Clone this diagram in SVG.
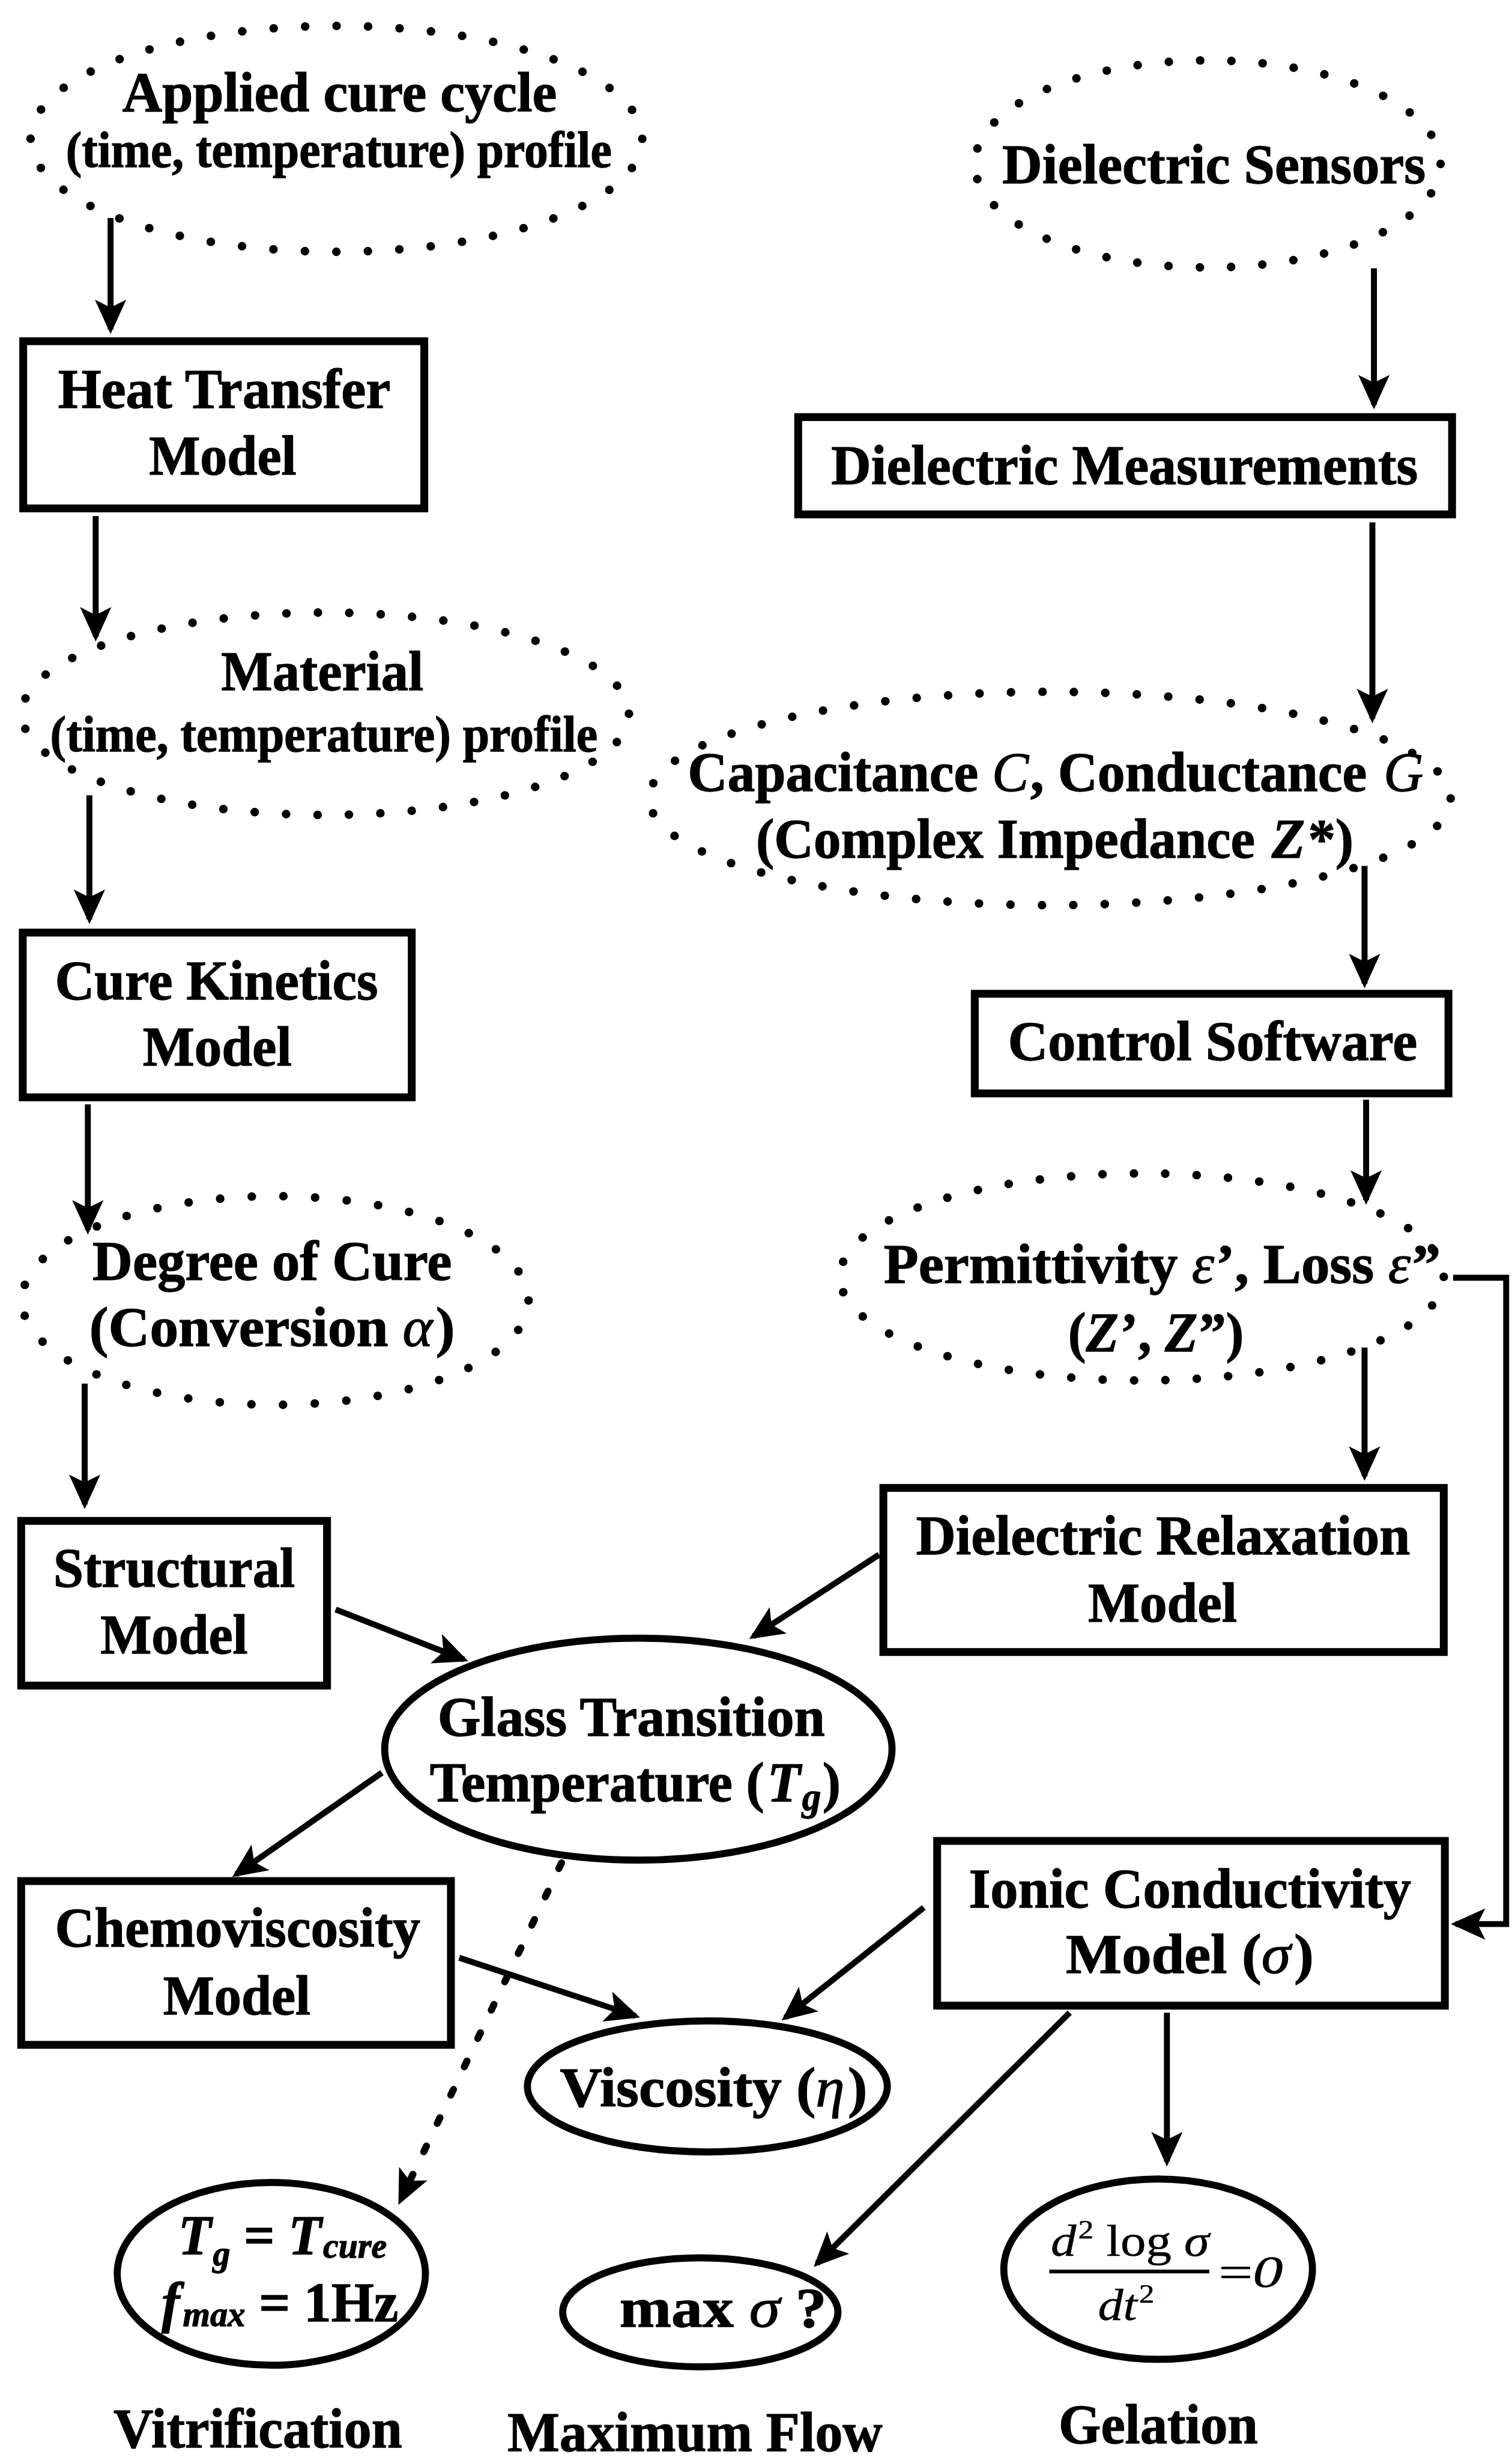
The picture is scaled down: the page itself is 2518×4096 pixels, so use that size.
<svg xmlns="http://www.w3.org/2000/svg" width="2518" height="4096" viewBox="0 0 2518 4096">
  <style>
    .box { fill: #fff; stroke: #000; stroke-width: 5; }
    .oval { fill: #fff; stroke: #000; stroke-width: 4.5; }
    .dots { fill: none; stroke: #000; stroke-width: 5.5; stroke-linecap: round; }
    .link { fill: none; stroke: #000; stroke-width: 3.8; marker-end: url(#arrow); }
    .dotlink { stroke-width: 4.5; stroke-dasharray: 4 16; stroke-linecap: round; }
    .bar { stroke: #000; stroke-width: 2.4; }
    text { font-family: "Liberation Serif", "Times New Roman", serif; font-weight: bold; font-size: 36px; fill: #000; stroke: #000; stroke-width: 0.5; }
    .sm { font-size: 32px; }
    .it { font-style: italic; }
    .gr { font-style: italic; font-weight: normal; }
    .fx { font-style: italic; font-weight: normal; font-size: 28px; stroke-width: 0.2; }
    .up { font-style: normal; }
  </style>
  <defs>
    <marker id="arrow" viewBox="-24 -12 30 24" markerWidth="30" markerHeight="24" refX="0" refY="0" orient="auto" markerUnits="userSpaceOnUse">
      <path d="M3,0 L-19,-10 L-14,0 L-19,10 Z" fill="#000"/>
    </marker>
  </defs>
  <rect x="0" y="0" width="2518" height="4096" fill="#fff"/>
  <g transform="scale(2.612)">
    <!-- connectors -->
    <g id="connectors">
      <path class="link" d="M70.5,139 L70.5,210"/>
      <path class="link" d="M61,329 L61,406"/>
      <path class="link" d="M57,507 L57,586"/>
      <path class="link" d="M56,704 L56,784"/>
      <path class="link" d="M54,882 L54,959"/>
      <path class="link" d="M214,1026 L295.8,1057.9"/>
      <path class="link" d="M560.5,991 L480.2,1043.2"/>
      <path class="link" d="M243.5,1130 L150.5,1194.9"/>
      <path class="link" d="M292.8,1248 L405.2,1285.1"/>
      <path class="link dotlink" d="M358,1187.5 L255.3,1402.8"/>
      <path class="link" d="M589,1216 L500.7,1286.1"/>
      <path class="link" d="M682,1283 L520.9,1442.9"/>
      <path class="link" d="M744,1283 L744,1378"/>
      <path class="link" d="M876,171 L876,258"/>
      <path class="link" d="M875,333 L875,458"/>
      <path class="link" d="M870,552 L870,627"/>
      <path class="link" d="M871,701 L871,765"/>
      <path class="link" d="M870,859 L870,941"/>
      <path class="link" d="M926.5,814.5 L960.3,814.5 L960.3,1226.5 L928,1226.5"/>
    </g>

    <!-- left column -->
    <g id="cure-cycle">
      <ellipse class="dots" cx="214.5" cy="88.5" rx="195" ry="72" stroke-dasharray="0 20.09"/>
      <text x="78" y="71" textLength="277" lengthAdjust="spacingAndGlyphs">Applied cure cycle</text>
      <text class="sm" x="42" y="106.5" textLength="348" lengthAdjust="spacingAndGlyphs">(time, temperature) profile</text>
    </g>
    <g id="heat-transfer">
      <rect class="box" x="14.8" y="217.5" width="255.7" height="106.6"/>
      <text x="37" y="260" textLength="212" lengthAdjust="spacingAndGlyphs">Heat Transfer</text>
      <text x="95" y="302.6" textLength="94" lengthAdjust="spacingAndGlyphs">Model</text>
    </g>
    <g id="material-profile">
      <ellipse class="dots" cx="207.5" cy="455" rx="193.5" ry="64.5" stroke-dasharray="0 20.05"/>
      <text x="141" y="440" textLength="129" lengthAdjust="spacingAndGlyphs">Material</text>
      <text class="sm" x="32" y="479" textLength="349" lengthAdjust="spacingAndGlyphs">(time, temperature) profile</text>
    </g>
    <g id="cure-kinetics">
      <rect class="box" x="14.5" y="594.5" width="248" height="105"/>
      <text x="35" y="637" textLength="206" lengthAdjust="spacingAndGlyphs">Cure Kinetics</text>
      <text x="91" y="679" textLength="95" lengthAdjust="spacingAndGlyphs">Model</text>
    </g>
    <g id="degree-of-cure">
      <ellipse class="dots" cx="175.5" cy="829" rx="161.5" ry="66.5" stroke-dasharray="0 20.21"/>
      <text x="59" y="816" textLength="229" lengthAdjust="spacingAndGlyphs">Degree of Cure</text>
      <text x="57" y="858" textLength="233" lengthAdjust="spacingAndGlyphs">(Conversion <tspan class="gr">α</tspan><tspan dx="2">)</tspan></text>
    </g>
    <g id="structural">
      <rect class="box" x="13.5" y="969.5" width="195" height="105"/>
      <text x="34" y="1011.6" textLength="154" lengthAdjust="spacingAndGlyphs">Structural</text>
      <text x="64" y="1054" textLength="94" lengthAdjust="spacingAndGlyphs">Model</text>
    </g>
    <g id="glass-transition">
      <ellipse class="oval" cx="407" cy="1115" rx="161.75" ry="70.75"/>
      <text x="279" y="1106.6" textLength="247" lengthAdjust="spacingAndGlyphs">Glass Transition</text>
      <text x="274" y="1148" textLength="262" lengthAdjust="spacingAndGlyphs">Temperature (<tspan class="it" dx="2">T</tspan><tspan class="it" font-size="25" dx="1" dy="6">g</tspan><tspan dx="1" dy="-6">)</tspan></text>
    </g>
    <g id="chemoviscosity">
      <rect class="box" x="13.5" y="1199.1" width="274" height="104.4"/>
      <text x="35" y="1241" textLength="233" lengthAdjust="spacingAndGlyphs">Chemoviscosity</text>
      <text x="104" y="1284" textLength="94" lengthAdjust="spacingAndGlyphs">Model</text>
    </g>
    <g id="viscosity">
      <ellipse class="oval" cx="451" cy="1330" rx="114.75" ry="41.75"/>
      <text x="357" y="1342.6" textLength="196" lengthAdjust="spacingAndGlyphs">Viscosity (<tspan class="gr">η</tspan><tspan dx="2">)</tspan></text>
    </g>
    <g id="vitrification">
      <ellipse class="oval" cx="173" cy="1449.5" rx="98.25" ry="58.25"/>
      <text x="113.6" y="1437" textLength="133" lengthAdjust="spacingAndGlyphs"><tspan class="it">T</tspan><tspan class="it" font-size="23" dx="1" dy="7">g</tspan><tspan dy="-7"> = </tspan><tspan class="it">T</tspan><tspan class="it" font-size="23" dx="1" dy="2">cure</tspan></text>
      <text x="103" y="1479.6" textLength="151" lengthAdjust="spacingAndGlyphs"><tspan class="it">f</tspan><tspan class="it" font-size="23" dx="2" dy="3">max</tspan><tspan dy="-3"> = 1Hz</tspan></text>
    </g>
    <g id="max-conductivity">
      <ellipse class="oval" cx="446.5" cy="1474" rx="87.75" ry="34.75"/>
      <text x="395" y="1483" textLength="132" lengthAdjust="spacingAndGlyphs">max <tspan class="gr">σ</tspan> ?</text>
    </g>
    <g id="gelation">
      <ellipse class="oval" cx="738.4" cy="1446.5" rx="98.4" ry="57.5"/>
      <text class="fx" x="670" y="1438" textLength="101" lengthAdjust="spacingAndGlyphs">d<tspan class="up" font-size="17" dx="1" dy="-11">2</tspan><tspan class="up" dy="11"> log</tspan> σ</text>
      <line class="bar" x1="669" y1="1448" x2="771" y2="1448"/>
      <text class="fx" x="700" y="1479" textLength="36" lengthAdjust="spacingAndGlyphs">dt<tspan class="up" font-size="17" dx="1" dy="-11">2</tspan></text>
      <text class="fx" x="777" y="1458" font-size="30" textLength="41" lengthAdjust="spacingAndGlyphs"><tspan class="up">=</tspan>0</text>
    </g>

    <!-- right column -->
    <g id="dielectric-sensors">
      <ellipse class="dots" cx="770" cy="104.5" rx="148.5" ry="66" stroke-dasharray="0 19.97"/>
      <text x="639" y="116.9" textLength="270" lengthAdjust="spacingAndGlyphs">Dielectric Sensors</text>
    </g>
    <g id="dielectric-measurements">
      <rect class="box" x="508.9" y="265.9" width="416.9" height="62"/>
      <text x="530" y="308.4" textLength="374" lengthAdjust="spacingAndGlyphs">Dielectric Measurements</text>
    </g>
    <g id="capacitance-conductance">
      <ellipse class="dots" cx="669.4" cy="509" rx="255.5" ry="68" stroke-dasharray="0 20.07"/>
      <text x="438.5" y="504.3" textLength="469" lengthAdjust="spacingAndGlyphs">Capacitance <tspan class="gr">C</tspan><tspan dx="1">, Conductance </tspan><tspan class="gr" dx="2">G</tspan></text>
      <text x="482" y="546.6" textLength="381" lengthAdjust="spacingAndGlyphs">(Complex Impedance <tspan class="it" dx="2">Z</tspan><tspan dx="2">*)</tspan></text>
    </g>
    <g id="control-software">
      <rect class="box" x="621.5" y="633.5" width="302" height="63.5"/>
      <text x="642.6" y="675.7" textLength="261" lengthAdjust="spacingAndGlyphs">Control Software</text>
    </g>
    <g id="permittivity-loss">
      <ellipse class="dots" cx="728" cy="814" rx="192.5" ry="66" stroke-dasharray="0 20.03"/>
      <text x="563.5" y="817.8" textLength="355" lengthAdjust="spacingAndGlyphs">Permittivity <tspan class="gr">ε</tspan><tspan dx="1">’, Loss </tspan><tspan class="gr">ε</tspan><tspan dx="1">”</tspan></text>
      <text x="681" y="861.6" textLength="112" lengthAdjust="spacingAndGlyphs">(<tspan class="it">Z</tspan><tspan dx="1">’, </tspan><tspan class="it">Z</tspan><tspan dx="1">”)</tspan></text>
    </g>
    <g id="dielectric-relaxation">
      <rect class="box" x="563.2" y="948.5" width="357.3" height="104.6"/>
      <text x="584" y="991" textLength="315" lengthAdjust="spacingAndGlyphs">Dielectric Relaxation</text>
      <text x="693.7" y="1033.7" textLength="95" lengthAdjust="spacingAndGlyphs">Model</text>
    </g>
    <g id="ionic-conductivity">
      <rect class="box" x="597.5" y="1173.5" width="323.7" height="105"/>
      <text x="617.7" y="1216" textLength="282" lengthAdjust="spacingAndGlyphs">Ionic Conductivity</text>
      <text x="679.6" y="1257.6" textLength="158" lengthAdjust="spacingAndGlyphs">Model (<tspan class="gr">σ</tspan><tspan dx="2">)</tspan></text>
    </g>

    <!-- outcome captions -->
    <g id="captions">
      <text x="72.4" y="1560" textLength="184" lengthAdjust="spacingAndGlyphs">Vitrification</text>
      <text x="323.6" y="1562.6" textLength="239" lengthAdjust="spacingAndGlyphs">Maximum Flow</text>
      <text x="675" y="1557.5" textLength="127" lengthAdjust="spacingAndGlyphs">Gelation</text>
    </g>
  </g>
</svg>
